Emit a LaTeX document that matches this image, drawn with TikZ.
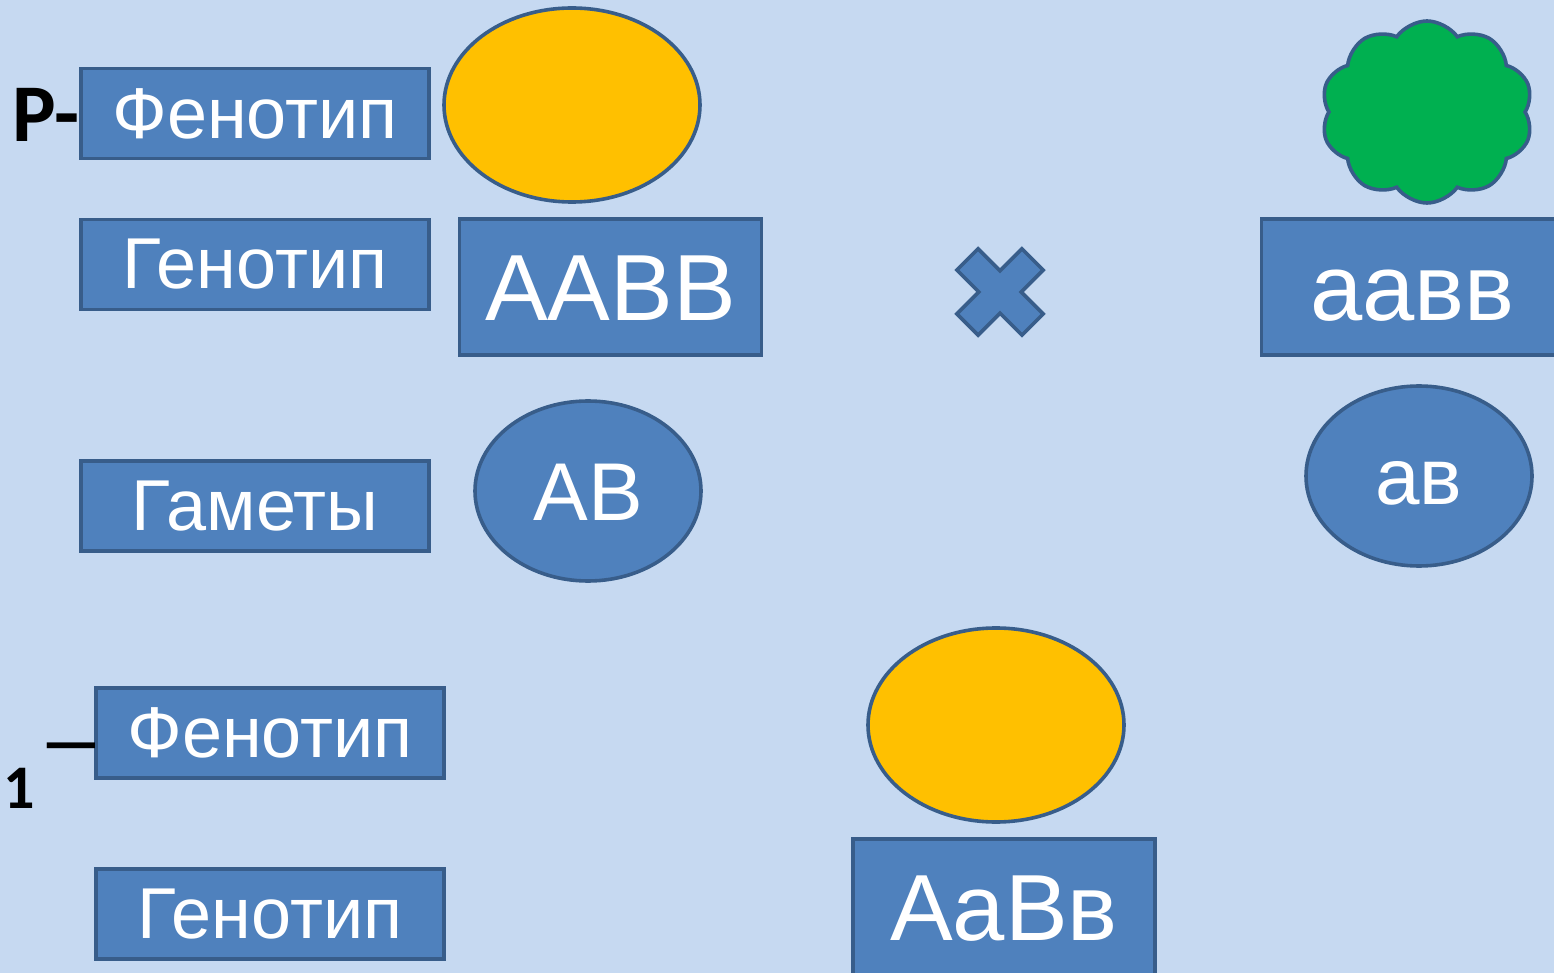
\documentclass[tikz,border=0pt]{standalone}
\usepackage{fontspec}
\setmainfont{Liberation Sans}
\newfontfamily\calib{Carlito}
\usetikzlibrary{shapes.geometric,shapes.symbols}
\definecolor{bgc}{HTML}{C6D9F1}
\definecolor{boxf}{HTML}{4F81BD}
\definecolor{boxd}{HTML}{385D8A}
\definecolor{yel}{HTML}{FFC000}
\definecolor{grn}{HTML}{00B050}
\tikzset{
  lbl/.style={draw=boxd, fill=boxf, line width=1.8pt, text=white, inner sep=0pt,
    minimum width=174pt, minimum height=45pt, font=\fontsize{36}{40}\selectfont},
  gen/.style={draw=boxd, fill=boxf, line width=1.8pt, text=white, inner sep=0pt,
    text height=33.8pt, text depth=0pt,
    minimum width=151pt, minimum height=68pt, font=\fontsize{47}{52}\selectfont},
  ell/.style={ellipse, draw=boxd, line width=1.8pt, inner sep=0pt},
  gam/.style={ell, fill=boxf, text=white, minimum height=90pt, text depth=0pt},
  blk/.style={text=black, inner sep=0pt, font=\calib\bfseries}
}
\begin{document}
\begin{tikzpicture}[x=0.5pt,y=-0.5pt]
\fill[bgc] (0,0) rectangle (1554,973);
\useasboundingbox (0,0) rectangle (1554,973);
% labels
\node[lbl] (fen1) at (255,113.5) {Фенотип};
\node[lbl] (gen1) at (255,264.5) {Генотип};
\node[lbl] (gam) at (255,506) {Гаметы};
\node[lbl] (fen2) at (270,733) {Фенотип};
\node[lbl] (gen2) at (270,914) {Генотип};
\node[blk, anchor=base west, font=\calib\bfseries\fontsize{41}{45}\selectfont] (P) at (12,142) {P-};
\node[blk, anchor=base west, font=\calib\bfseries\fontsize{31}{35}\selectfont] (one) at (3,808) {1};
\node[blk, anchor=center, font=\calib\bfseries\fontsize{33}{37}\selectfont] (dash) at (71,754) {—};
% parents
\node[ell, fill=yel, minimum width=128pt, minimum height=97pt] (ph1) at (572,105) {};
\node[cloud, cloud puffs=10, cloud puff arc=110, aspect=1.15, draw=boxd, fill=grn, line width=1.8pt,
  minimum width=106pt, minimum height=91pt, inner sep=0pt] (ph2) at (1427,112) {};
\node[gen] (g1) at (610.5,287) {AABB};
\node[gen] (g2) at (1412.5,287) {аавв};
\node[gam, minimum width=113pt, text height=29.5pt, font=\fontsize{41}{45}\selectfont] (a1) at (588,491) {AB};
\node[gam, minimum width=113pt, text height=28.8pt, font=\fontsize{40}{45}\selectfont] (a2) at (1419,476) {ав};
% cross
\coordinate (x) at (1000,292);
\draw[boxd, fill=boxf, line width=1.8pt, shift={(x)}, rotate=45]
  (-15,-46) -- (15,-46) -- (15,-15) -- (46,-15) -- (46,15) -- (15,15) -- (15,46)
  -- (-15,46) -- (-15,15) -- (-46,15) -- (-46,-15) -- (-15,-15) -- cycle;
% F1
\node[ell, fill=yel, minimum width=128pt, minimum height=97pt] (ph3) at (996,725) {};
\node[gen] (g3) at (1004,907) {AaBв};
\end{tikzpicture}
\end{document}
